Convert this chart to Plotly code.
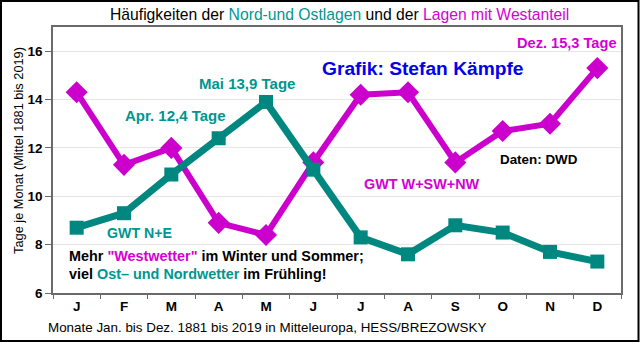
import plotly.graph_objects as go

months = ["J", "F", "M", "A", "M", "J", "J", "A", "S", "O", "N", "D"]
west = [14.3, 11.3, 12.0, 8.9, 8.4, 11.4, 14.2, 14.3, 11.4, 12.7, 13.0, 15.3]
north_east = [8.7, 9.3, 10.9, 12.4, 13.9, 11.1, 8.3, 7.6, 8.8, 8.5, 7.7, 7.3]
yticks = [6, 8, 10, 12, 14, 16]

TEAL = "#00877F"
TEAL_TXT = "#00968F"
MAG = "#CC00CC"
MAG_TXT = "#D400D4"
FONT = "Liberation Sans, Arial, sans-serif"

x_idx = list(range(len(months)))

fig = go.Figure()
fig.add_trace(go.Scatter(
    x=x_idx, y=west, mode="lines+markers",
    line=dict(color=MAG, width=6),
    marker=dict(symbol="diamond", size=17, color=MAG),
    showlegend=False, hoverinfo="skip"))
fig.add_trace(go.Scatter(
    x=x_idx, y=north_east, mode="lines+markers",
    line=dict(color=TEAL, width=7),
    marker=dict(symbol="square", size=14, color=TEAL),
    showlegend=False, hoverinfo="skip"))

L, T, W, H = 53, 27, 568, 266


def px(x):
    return (x - L) / W


def py(y):
    return (T + H - y) / H


def ann(text, x, y, size=13, color="black", xanchor="left", angle=0):
    fig.add_annotation(text=text, x=px(x), y=py(y), xref="paper", yref="paper",
                       xanchor=xanchor, yanchor="middle", showarrow=False,
                       textangle=angle,
                       font=dict(family=FONT, size=size, color=color))


ann("Häufigkeiten der <span style='color:%s'>Nord-und Ostlagen</span> und der "
    "<span style='color:%s'>Lagen mit Westanteil</span>" % (TEAL_TXT, MAG_TXT),
    339, 15, size=15.7, xanchor="center")
ann("<b>Dez. 15,3 Tage</b>", 619, 43, size=14.6, color=MAG_TXT, xanchor="right")
ann("<b>Grafik: Stefan Kämpfe</b>", 320, 68, size=19.2, color="#0000EE")
ann("<b>Daten: DWD</b>", 498, 159, size=13.4)
ann("<b>GWT W+SW+NW</b>", 362, 184, size=14.4, color=MAG_TXT)
ann("<b>Mai 13,9 Tage</b>", 197, 83, size=15, color=TEAL_TXT)
ann("<b>Apr. 12,4 Tage</b>", 123, 115, size=15, color=TEAL_TXT)
ann("<b>GWT N+E</b>", 105, 233, size=14.2, color=TEAL_TXT)
ann("<b>Mehr <span style='color:%s'>\"Westwetter\"</span> im Winter und Sommer;</b>" % MAG_TXT,
    67, 256, size=14.4)
ann("<b>viel <span style='color:%s'>Ost– und Nordwetter</span> im Frühling!</b>" % TEAL_TXT,
    67, 274, size=14.4)
ann("Monate Jan. bis Dez. 1881 bis 2019 in Mitteleuropa, HESS/BREZOWSKY", 46, 327, size=13.4)
ann("Tage je Monat (Mittel 1881 bis 2019)", 18, 151, size=12.8, xanchor="center", angle=-90)

fig.add_shape(type="rect", xref="paper", yref="paper",
              x0=px(1), x1=px(638.5), y0=py(1), y1=py(341),
              line=dict(color="black", width=2), layer="above")

fig.update_layout(
    width=640, height=343,
    margin=dict(l=L, r=640 - L - W, t=T, b=343 - T - H),
    paper_bgcolor="white", plot_bgcolor="white",
    font=dict(family=FONT, size=13, color="black"),
    xaxis=dict(range=[-0.5, 11.5], tickmode="array", tickvals=x_idx, ticktext=["<b>%s</b>" % m for m in months],
               showgrid=False, zeroline=False, showline=True, linecolor="#6a6a6a",
               linewidth=1.5, mirror=True, ticks="", tickfont=dict(size=13.5)),
    xaxis2=dict(range=[-0.5, 11.5], overlaying="x", tickmode="array",
                tickvals=[i - 0.5 for i in range(13)], ticktext=[""] * 13,
                ticks="outside", ticklen=5, tickcolor="#6a6a6a", showgrid=False,
                zeroline=False, showline=False, side="bottom", anchor="y"),
    yaxis=dict(range=[6, 17], tickmode="array", tickvals=yticks,
               ticktext=["<b>%d</b>" % v for v in yticks],
               showgrid=True, gridcolor="#e6e6e6", gridwidth=1, zeroline=False,
               showline=True, linecolor="#6a6a6a", linewidth=1.5, mirror=True,
               ticks="outside", ticklen=6, tickcolor="#6a6a6a", tickfont=dict(size=13.5)),
)
fig.add_trace(go.Scatter(x=[None], y=[None], xaxis="x2", showlegend=False, hoverinfo="skip"))

fig.write_html("out.html")
